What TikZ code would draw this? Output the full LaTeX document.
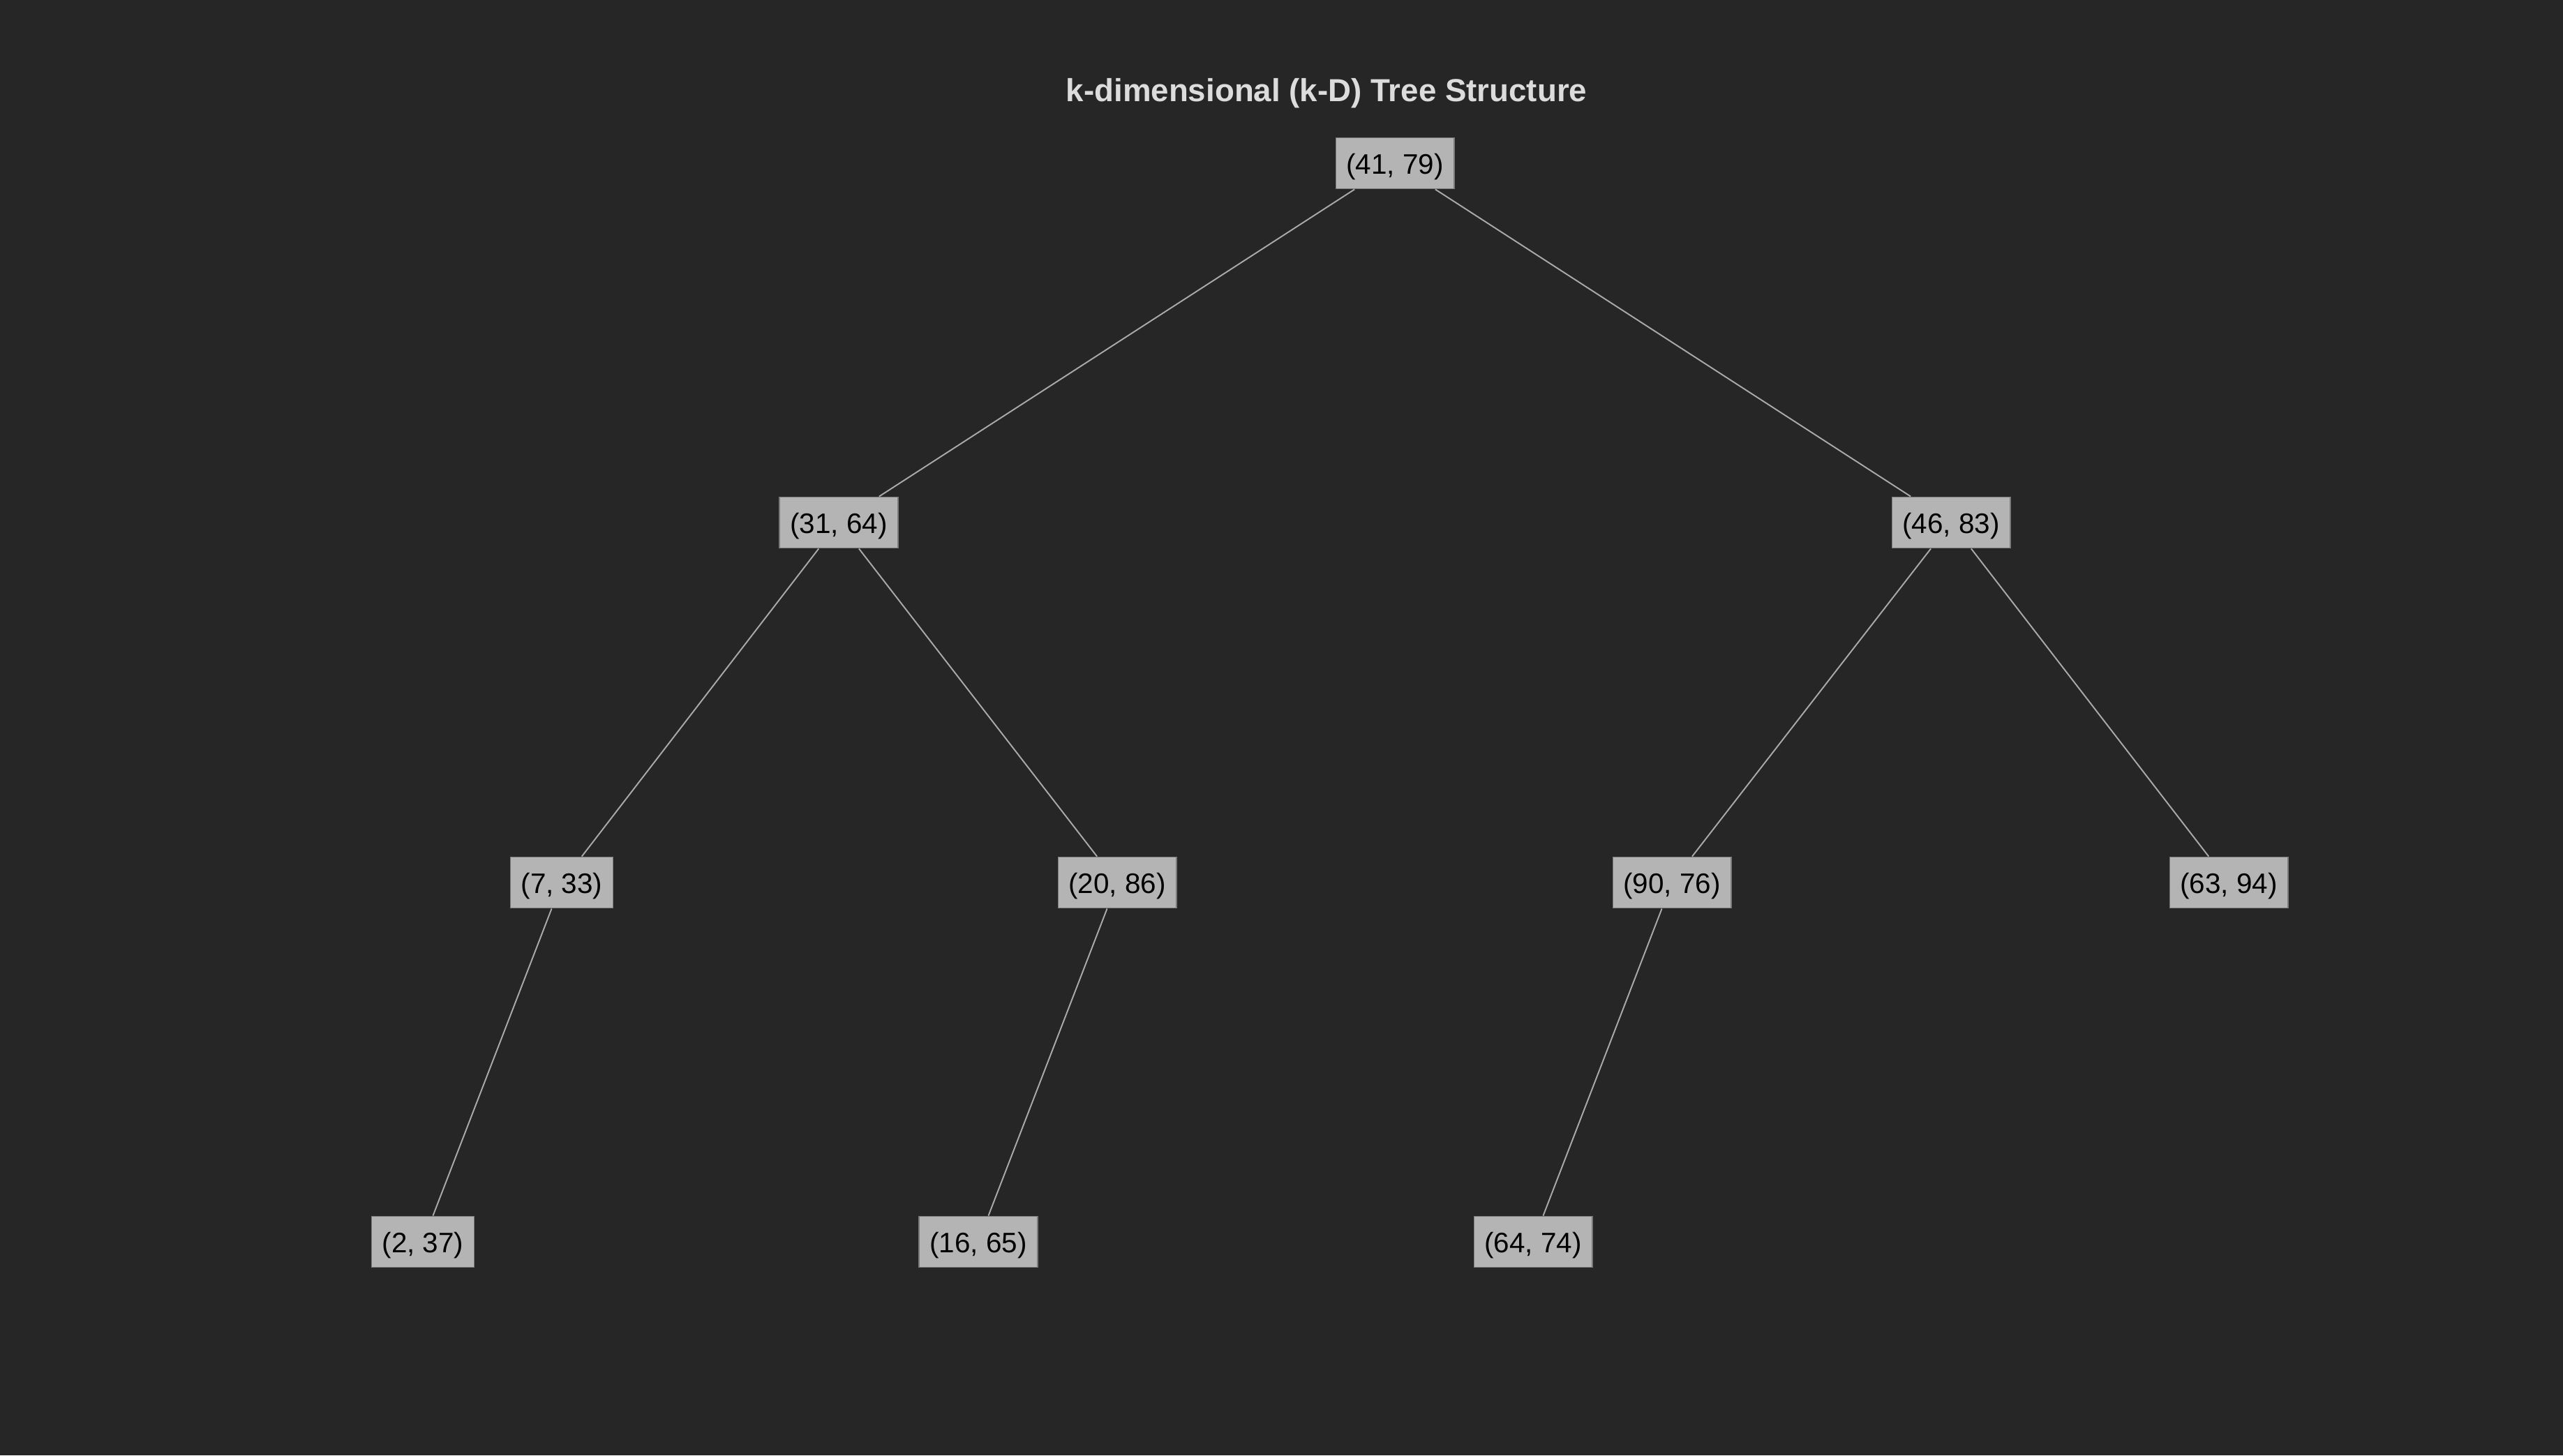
\documentclass[tikz,border=0pt]{standalone}
\usepackage{fontspec}
\setmainfont{Liberation Sans}
\usetikzlibrary{positioning}
\definecolor{bgdark}{HTML}{262626}
\definecolor{nodefill}{HTML}{B4B4B4}
\definecolor{nodeline}{HTML}{7A7A7A}
\definecolor{edgegray}{HTML}{AAAAAA}
\definecolor{titlegray}{HTML}{DCDCDC}

\begin{document}
\begin{tikzpicture}[
          pt/.style={draw=nodeline, line width=0.5pt, fill=nodefill, inner xsep=0.15cm, inner ysep=0pt, minimum height=0.73cm, text height=9.7pt, text depth=1.1pt, text=black, font=\fontsize{11.5}{13}\selectfont},
          edge/.style={draw=edgegray, line width=0.55pt}]
        \fill[bgdark] (0,0) rectangle (36.73,-20.86);
        \useasboundingbox (0,0) rectangle (36.73,-20.86);
        \node[text=titlegray, font=\bfseries\fontsize{13}{15}\selectfont] (title) at (19.01,-1.34) {k-dimensional (k-D) Tree Structure};
        % level 1
        \node[pt] (p4179) at (19.99,-2.34) {(41, 79)};
        % level 2
        \node[pt] (p3164) at (12.02,-7.49) {(31, 64)};
        \node[pt] (p4683) at (27.96,-7.49) {(46, 83)};
        % level 3
        \node[pt] (p733) at (8.05,-12.65) {(7, 33)};
        \node[pt] (p2086) at (16.01,-12.65) {(20, 86)};
        \node[pt] (p9076) at (23.96,-12.65) {(90, 76)};
        \node[pt] (p6394) at (31.94,-12.65) {(63, 94)};
        % level 4
        \node[pt] (p237) at (6.06,-17.80) {(2, 37)};
        \node[pt] (p1665) at (14.02,-17.80) {(16, 65)};
        \node[pt] (p6474) at (21.97,-17.80) {(64, 74)};
        \draw[edge] (p4179) -- (p3164);
        \draw[edge] (p4179) -- (p4683);
        \draw[edge] (p3164) -- (p733);
        \draw[edge] (p3164) -- (p2086);
        \draw[edge] (p4683) -- (p9076);
        \draw[edge] (p4683) -- (p6394);
        \draw[edge] (p733) -- (p237);
        \draw[edge] (p2086) -- (p1665);
        \draw[edge] (p9076) -- (p6474);
      \end{tikzpicture}
\end{document}
